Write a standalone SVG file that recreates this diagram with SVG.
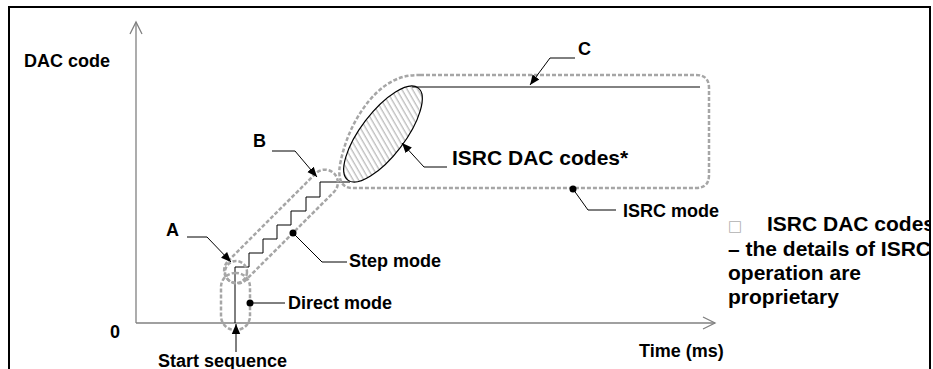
<svg xmlns="http://www.w3.org/2000/svg" width="933" height="369" viewBox="0 0 933 369">
<style>
.lbl{font-family:"Liberation Sans",Arial,sans-serif;font-weight:bold;font-size:18px;fill:#000}
.big{font-family:"Liberation Sans",Arial,sans-serif;font-weight:bold;font-size:21px;fill:#000}
.dash{fill:none;stroke:#a6a6a6;stroke-width:2.5;stroke-dasharray:4 2}
.ax{fill:none;stroke:#808080;stroke-width:1.3}
.lead{fill:none;stroke:#000;stroke-width:1}
.dot{fill:#000}
</style>
<defs>
<marker id="ah" viewBox="0 0 10 10" refX="10" refY="5" markerWidth="10" markerHeight="10" markerUnits="userSpaceOnUse" orient="auto">
<path d="M0,0.8 L10,5 L0,9.2 z" fill="#000"/>
</marker>
<pattern id="hatch" patternUnits="userSpaceOnUse" width="4.6" height="10" patternTransform="rotate(22.7)">
<line x1="2" y1="-1" x2="2" y2="11" stroke="#8c8c8c" stroke-width="0.8"/>
</pattern>
<clipPath id="frameclip"><rect x="0" y="0" width="929" height="369"/></clipPath>
</defs>
<rect width="933" height="369" fill="#fff"/>

<g id="frame">
<path d="M9,369 V7 H930 V369" fill="none" stroke="#000" stroke-width="2"/>
</g>

<g id="axes">
<path class="ax" d="M136,323 V22"/>
<path class="ax" d="M130,34 L136,22 L142,34"/>
<path class="ax" d="M136,323 H715"/>
<path class="ax" d="M703,317 L715,323 L703,329"/>
<text class="lbl" x="24" y="67">DAC code</text>
<text class="lbl" x="110" y="338">0</text>
<text class="lbl" x="639" y="357">Time (ms)</text>
</g>

<g id="curve">
<path d="M235,323 V267 H249 V253 H263 V239 H277 V225 H291 V211 H306 V197 H320 V182 H350" fill="none" stroke="#000" stroke-width="1"/>
<path d="M412,87 H700" fill="none" stroke="#595959" stroke-width="1.5"/>
</g>

<g id="direct-mode">
<rect class="dash" x="221" y="273" width="29" height="57" rx="14"/>
<circle class="dot" cx="250" cy="303" r="3.5"/>
<text class="lbl" x="288" y="309">Direct mode</text>
</g>

<g id="point-a">
<circle class="dash" cx="236" cy="272" r="11"/>
<text class="lbl" x="166" y="236">A</text>
</g>

<g id="step-mode">
<rect class="dash" x="206" y="213.5" width="150" height="26" rx="13" transform="rotate(-45 281 226.5)"/>
<circle class="dot" cx="293" cy="233" r="3.5"/>
<text class="lbl" x="349" y="267">Step mode</text>
<text class="lbl" x="253" y="147">B</text>
</g>

<g id="isrc-mode">
<path class="dash" d="M420,75 H696 Q709,75 709,88 V175 Q709,188 696,188 H352 C340,188 337,176 341,160 C348,126 370,91 395,80 C403,76 410,75 420,75 Z"/>
<ellipse cx="383" cy="134" rx="58" ry="22" transform="rotate(-52.7 383 134)" fill="url(#hatch)" stroke="#000" stroke-width="1.2"/>
<circle class="dot" cx="573" cy="189" r="3.5"/>
<text class="big" x="452" y="165">ISRC DAC codes*</text>
<text class="lbl" x="623" y="217">ISRC mode</text>
<text class="lbl" x="578" y="55">C</text>
</g>

<g id="start-sequence">
<text class="lbl" x="158" y="367">Start sequence</text>
</g>

<g id="note" clip-path="url(#frameclip)">
<text class="big" x="728" y="231"><tspan font-family="DejaVu Sans,sans-serif" font-weight="normal" font-size="15" fill="#b0b0b0">□</tspan><tspan x="767">ISRC DAC codes</tspan></text>
<text class="big" x="728" y="256">– the details of ISRC</text>
<text class="big" x="728" y="280">operation are</text>
<text class="big" x="728" y="304">proprietary</text>
</g>

<g id="connectors">
<path class="lead" d="M272,151 H295 L317,177" marker-end="url(#ah)"/>
<path class="lead" d="M187,237 H207 L231,262" marker-end="url(#ah)"/>
<path class="lead" d="M575,58 H550 L530,85" marker-end="url(#ah)"/>
<path class="lead" d="M447,167 H424 L402,143" marker-end="url(#ah)"/>
<path class="lead" d="M347,262 H322 L293,233"/>
<path class="lead" d="M285,303 H250"/>
<path class="lead" d="M616,210 H588 L573,189"/>
<path class="lead" d="M236,352 V324" marker-end="url(#ah)"/>
</g>
</svg>
